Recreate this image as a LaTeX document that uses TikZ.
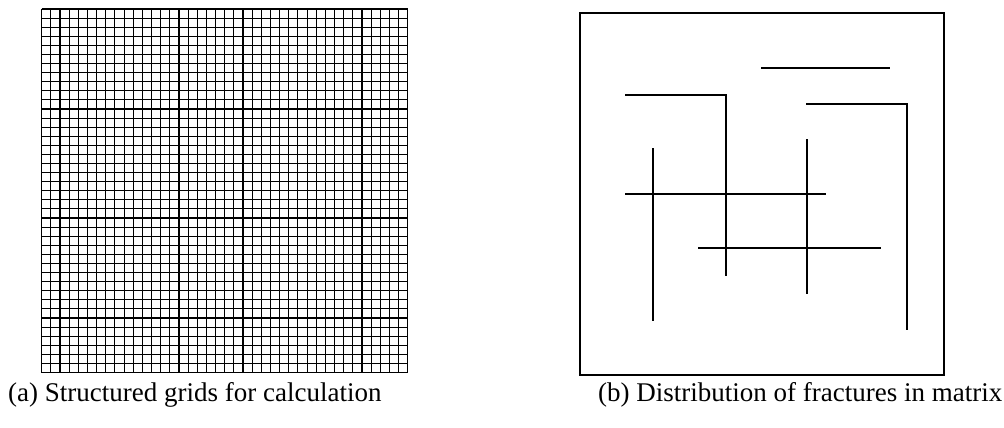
\documentclass[tikz,border=0pt]{standalone}
\usepackage{fontspec}
\setmainfont{Liberation Serif}
\usetikzlibrary{positioning}

\begin{document}
\begin{tikzpicture}[
    x = 1pt, y = -1pt,
    every node/.style = {font = \fontsize{27}{31}\selectfont},
    gridline/.style   = {line width = 1.1pt},
    frame/.style      = {line width = 2.2pt},
    frac/.style       = {line width = 2pt},
    caption/.style    = {inner sep = 0pt, anchor = base west},
]
\useasboundingbox (0,0) rectangle (1004,428);

% ---------- (a) structured grid, 40 x 40 cells ----------
\foreach \i in {0,...,40} {
    \draw[gridline] ({41.7 + 9.15*\i}, 9) -- ({41.7 + 9.15*\i}, 372.5);
    \draw[gridline] (41.7, {9 + 9.0875*\i}) -- (407.7, {9 + 9.0875*\i});
}

% ---------- (b) matrix with fractures ----------
\draw[frame] (580,13) rectangle (944,375);

\draw[frac] (761,68) -- (890,68);
\draw[frac] (625,95) -- (726,95) -- (726,276);
\draw[frac] (806,104) -- (907,104) -- (907,330);
\draw[frac] (652.7,148) -- (652.7,320.7);
\draw[frac] (625,193.7) -- (826,193.7);
\draw[frac] (806.7,139) -- (806.7,293.7);
\draw[frac] (698,248) -- (880.7,248);

% ---------- captions ----------
\node[caption] (capa) at (8,401) {(a) Structured grids for calculation};
\node[caption] (capb) at (598,401) {(b) Distribution of fractures in matrix};

\end{tikzpicture}
\end{document}
